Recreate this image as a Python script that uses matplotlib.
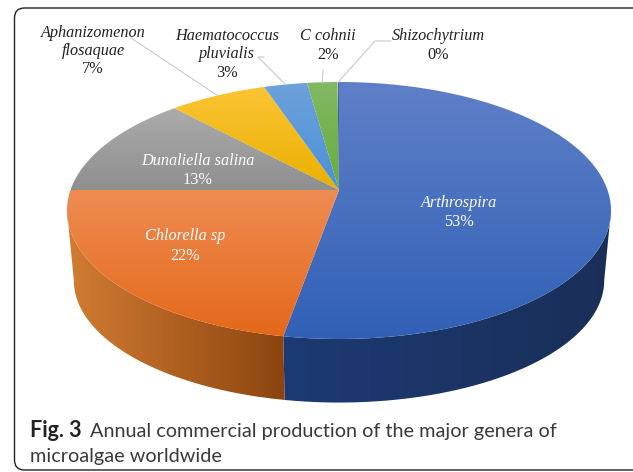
import numpy as np
import matplotlib
matplotlib.use("Agg")
import matplotlib.pyplot as plt
from matplotlib.patches import FancyBboxPatch, Polygon
from matplotlib.colors import to_rgb

# Data
genera = ["Arthrospira", "Chlorella sp", "Dunaliella salina", "Aphanizomenon flosaquae",
          "Haematococcus pluvialis", "C cohnii", "Shizochytrium"]
shares = [52.8, 22.2, 13.0, 6.8, 3.0, 2.1, 0.1]
label_lines = [["Arthrospira"], ["Chlorella sp"], ["Dunaliella salina"],
               ["Aphanizomenon", "flosaquae"], ["Haematococcus", "pluvialis"],
               ["C cohnii"], ["Shizochytrium"]]

# Styles
top_grad = [("#5f80c8", "#3160b6"), ("#ef8c52", "#e4681a"), ("#ababab", "#8f8f8f"),
            ("#fcc435", "#e9b000"), ("#6ea2da", "#4a90d9"), ("#82b964", "#66ab3c"),
            ("#4a6aa8", "#2f5597")]
side_grad = [("#1c3a74", "#1a2f58"), ("#d27c32", "#8c4510")]
text_pos = [(459, [203, 222], "white"), (185, [236, 256], "white"), (198, [161, 180], "white"),
            (93, [33, 51, 69], "#222222"), (227, [36, 54, 73], "#222222"),
            (328, [36, 55], "#222222"), (438, [36, 55], "#222222")]
leaders = {3: (131, 38), 4: (258, 57), 5: (323, 70), 6: (375, 41)}
leader_elbow = {4: (264, 57), 6: (391, 41)}

W, H = 633, 472
fig = plt.figure(figsize=(W / 100, H / 100), dpi=100)
ax = fig.add_axes([0, 0, 1, 1])
ax.set_xlim(0, W)
ax.set_ylim(H, 0)
ax.axis("off")

CX, CY, KP, BP, C = 339.0, 190.0, 0.1595, -94.92, 268.5


def top_xy(theta):
    u, v = np.sin(theta), np.cos(theta)
    w = 1 + KP * v
    return CX + C * u / w, (CY + BP * v) / w


def bottom_xy(theta):
    x, y = top_xy(theta)
    return 340 + (x - 340) * 0.975, 280 + (y - 210) * 0.95


def fill_gradient(poly, c0, c1, horizontal, zorder):
    (x0, y0), (x1, y1) = poly.min(axis=0), poly.max(axis=0)
    t = np.linspace(0, 1, 128)
    rgb = np.outer(1 - t, to_rgb(c0)) + np.outer(t, to_rgb(c1))
    img = rgb[None, :, :] if horizontal else rgb[:, None, :]
    im = ax.imshow(img, extent=(x0, x1, y1, y0), origin="upper", aspect="auto",
                   interpolation="bilinear", zorder=zorder)
    patch = Polygon(poly, closed=True, transform=ax.transData, fc="none", ec="none")
    ax.add_patch(patch)
    im.set_clip_path(patch)


edges = np.cumsum([0] + shares) / sum(shares) * 2 * np.pi

# Side wall: visible between the two silhouette tangents of the perspective ellipse
tangent = np.arccos(-KP)
wall_spans = [(tangent, edges[1]), (edges[1], 2 * np.pi - tangent)]
for i, (a, b) in enumerate(wall_spans):
    th = np.linspace(a, b, 200)
    tx, ty = top_xy(th)
    bx, by = bottom_xy(th)
    poly = np.column_stack([np.r_[tx, bx[::-1]], np.r_[ty, by[::-1]]])
    # gradient runs left to right on screen
    fill_gradient(poly, side_grad[i][0], side_grad[i][1], True, 2)

# Top face
for i in range(len(shares)):
    th = np.linspace(edges[i], edges[i + 1], 240)
    tx, ty = top_xy(th)
    poly = np.column_stack([np.r_[CX, tx], np.r_[CY, ty]])
    fill_gradient(poly, *top_grad[i], False, 3)

# Leader lines
for i, (lx, ly) in leaders.items():
    mid = 0.5 * (edges[i] + edges[i + 1])
    ex, ey = top_xy(mid)
    xs, ys = [lx], [ly]
    if i in leader_elbow:
        xs, ys = [leader_elbow[i][0], lx], [leader_elbow[i][1], ly]
    ax.plot(xs + [ex], ys + [ey], color="#c9c9c9", lw=0.8, zorder=4)

# Labels
SERIF = "Liberation Serif"
for i, (x, ys, col) in enumerate(text_pos):
    for line, y in zip(label_lines[i], ys):
        ax.text(x, y, line, family=SERIF, style="italic", fontsize=11.7, color=col,
                ha="center", va="center", zorder=5)
    ax.text(x, ys[len(label_lines[i])], f"{round(shares[i])}%", family=SERIF, fontsize=11.7,
            color=col, ha="center", va="center", zorder=5)

# Card border
ax.add_patch(FancyBboxPatch((24.5, 18), 640, 442, boxstyle="round,pad=10,rounding_size=10",
                            fc="none", ec="#222222", lw=1.0, zorder=1, clip_on=True))

# Caption
ax.text(30, 437, "Fig. 3", family="Lato", weight="bold", fontsize=15.5, color="#222222",
        va="baseline", ha="left", zorder=5)
ax.text(90, 437, "Annual commercial production of the major genera of", family="Lato",
        fontsize=14.3, color="#3a3a3a", va="baseline", ha="left", zorder=5)
ax.text(30, 462, "microalgae worldwide", family="Lato", fontsize=14.3, color="#3a3a3a",
        va="baseline", ha="left", zorder=5)

fig.savefig("out.png", dpi=100)
